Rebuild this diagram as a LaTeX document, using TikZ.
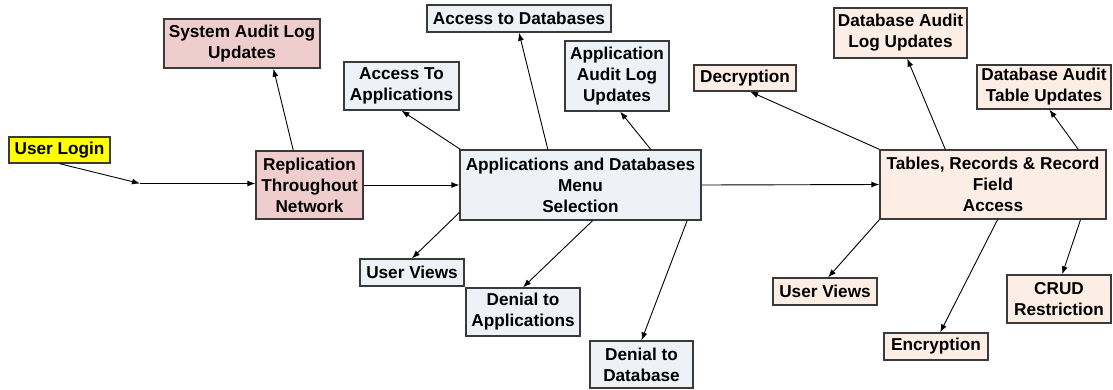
\documentclass[tikz,border=0pt]{standalone}
\usepackage{fontspec}
\setmainfont{Liberation Sans}
\usetikzlibrary{arrows.meta,calc}

\definecolor{linegray}{HTML}{3A3A3A}
\definecolor{pinkfill}{HTML}{EFCDCD}
\definecolor{bluefill}{HTML}{EEF1F6}
\definecolor{peachfill}{HTML}{FCEEE4}
\definecolor{loginfill}{HTML}{FFFF00}

\tikzset{
  box/.style={draw=linegray, line width=1.3pt, inner sep=0pt, align=center,
    font=\fontsize{17.2}{21}\selectfont\bfseries},
  pinkbox/.style={box, fill=pinkfill},
  bluebox/.style={box, fill=bluefill},
  peachbox/.style={box, fill=peachfill},
  loginbox/.style={box, fill=loginfill},
  link/.style={draw=black, line width=0.9pt, -{Latex[length=8pt,width=6pt]}},
}

\begin{document}
\begin{tikzpicture}[x=1pt,y=-1pt]
\useasboundingbox (0,0) rectangle (1113,389);

% login and replication stage
\node[loginbox, minimum width=101pt, minimum height=26pt] (login) at (59.5,150) {User Login};
\node[pinkbox, minimum width=107pt, minimum height=68pt] (rep) at (309.5,185) {Replication\\Throughout\\Network};
\node[pinkbox, minimum width=156pt, minimum height=49pt] (sal) at (242,43.5) {System Audit Log\\Updates};
\coordinate (join) at (140,183.5);

% application and database menu
\node[bluebox, minimum width=241pt, minimum height=70pt] (menu) at (580.5,185) {Applications and Databases\\Menu\\Selection};
\node[bluebox, minimum width=115pt, minimum height=48pt] (ata) at (401.5,86) {Access To\\Applications};
\node[bluebox, minimum width=184pt, minimum height=27pt] (atd) at (519,18.5) {Access to Databases};
\node[bluebox, minimum width=104pt, minimum height=70pt] (aal) at (617,76) {Application\\Audit Log\\Updates};
\node[bluebox, minimum width=104pt, minimum height=27pt] (uva) at (412,272.5) {User Views};
\node[bluebox, minimum width=114pt, minimum height=48pt] (dta) at (523,312) {Denial to\\Applications};
\node[bluebox, minimum width=103pt, minimum height=47pt] (dtd) at (641.5,364.5) {Denial to\\Database};

% tables, records and fields
\node[peachbox, minimum width=226pt, minimum height=69pt] (tab) at (993,184.5) {Tables, Records \& Record\\Field\\Access};
\node[peachbox, minimum width=102pt, minimum height=26pt] (dec) at (745,78) {Decryption};
\node[peachbox, minimum width=133pt, minimum height=50pt] (dal) at (900.5,33) {Database Audit\\Log Updates};
\node[peachbox, minimum width=134pt, minimum height=44pt] (dat) at (1044,87) {Database Audit\\Table Updates};
\node[peachbox, minimum width=104pt, minimum height=27pt] (uvb) at (825,291.5) {User Views};
\node[peachbox, minimum width=104pt, minimum height=27pt] (enc) at (936,346.5) {Encryption};
\node[peachbox, minimum width=104pt, minimum height=48pt] (crud) at (1059,299) {CRUD\\Restriction};

% main flow
\draw[link] (login.south) -- (join);
\draw[link] (join) -- (rep.west |- join);
\draw[link] (rep.east) -- (menu.west);
\draw[link] (menu.east) -- (tab.west);

% replication branch
\draw[link] ($(rep.north west)!0.35!(rep.north east)$) -- ($(sal.south west)!0.70!(sal.south east)$);

% menu branches
\draw[link] ([xshift=1pt]menu.north west) -- (ata.south);
\draw[link] ($(menu.north west)!0.365!(menu.north east)$) -- (atd.south);
\draw[link] ($(menu.north west)!0.79!(menu.north east)$) -- ($(aal.south west)!0.53!(aal.south east)$);
\draw[link] ($(menu.north west)!0.886!(menu.south west)$) -- (uva.north);
\draw[link] ($(menu.south west)!0.55!(menu.south east)$) -- (dta.north);
\draw[link] ($(menu.south west)!0.94!(menu.south east)$) -- (dtd.north);

% table branches
\draw[link] (tab.north west) -- ($(dec.south west)!0.55!(dec.south east)$);
\draw[link] ($(tab.north west)!0.29!(tab.north east)$) -- ($(dal.south west)!0.55!(dal.south east)$);
\draw[link] ($(tab.north west)!0.875!(tab.north east)$) -- ($(dat.south west)!0.54!(dat.south east)$);
\draw[link] (tab.south west) -- ($(uvb.north west)!0.53!(uvb.north east)$);
\draw[link] ($(tab.south west)!0.52!(tab.south east)$) -- ($(enc.north west)!0.54!(enc.north east)$);
\draw[link] ($(tab.south west)!0.885!(tab.south east)$) -- ($(crud.north west)!0.53!(crud.north east)$);
\end{tikzpicture}
\end{document}
